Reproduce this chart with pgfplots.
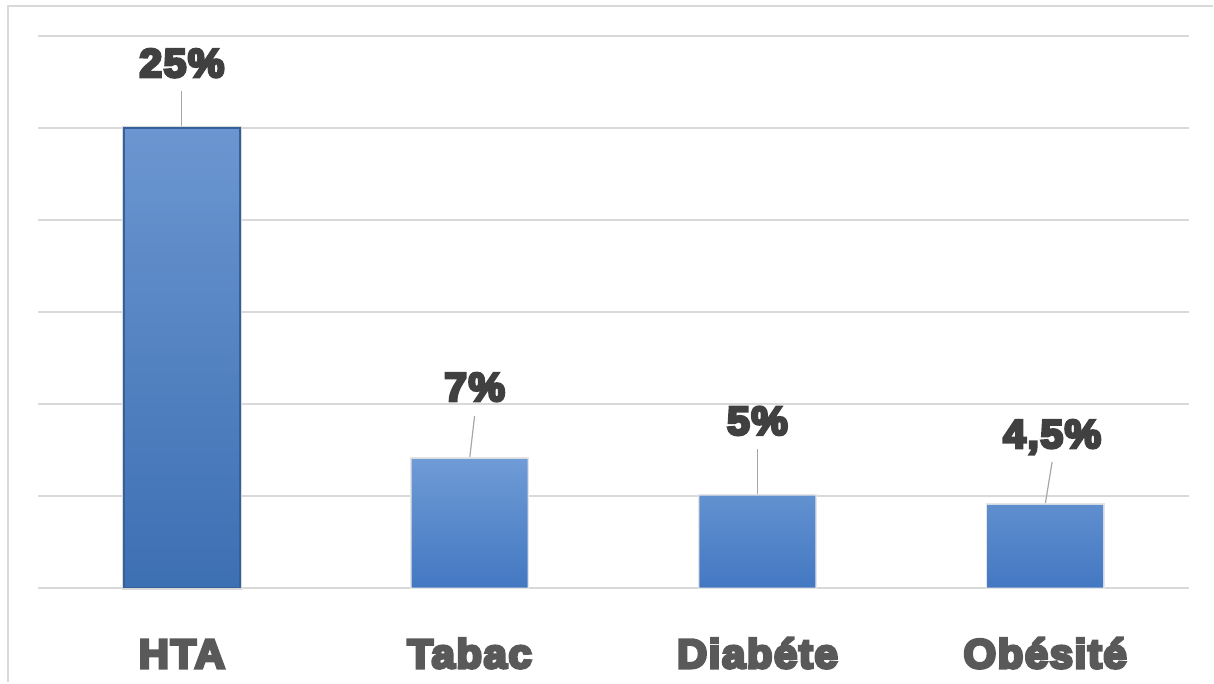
\documentclass[border=0pt]{standalone}
\usepackage{pgfplots}
\pgfplotsset{compat=1.18}
\usepackage{pgfplotstable}
\usepackage{fontspec}
\setmainfont{Liberation Sans}
\newfontfamily\heavy{Liberation Sans}[BoldFeatures={FakeBold=7.5, FakeStretch=1.02, LetterSpace=4}]

\definecolor{gridc}{HTML}{D9D9D9}
\definecolor{catc}{HTML}{595959}
\definecolor{valc}{HTML}{404040}
\definecolor{leadc}{HTML}{A6A6A6}
\definecolor{bartop}{HTML}{6F9BD6}
\definecolor{barbot}{HTML}{4378C2}
\definecolor{htatop}{HTML}{6B96D0}
\definecolor{htabot}{HTML}{3D6FB3}
\definecolor{htaedge}{HTML}{35609C}

% x = category index, y = share in percent,
% dx/dy = offset of the value label from the top of the bar (pt)
\pgfplotstableread{
x y   dx  dy
0 25  0   25.5
1 7   2.5 29
2 5   0   30.5
3 4.5 3.5 28.5
}\riskdata

\begin{document}
\begin{tikzpicture}
\path (0,0) rectangle (607pt,341.5pt);
\draw[gridc, line width=1pt] (4pt,0) -- (4pt,338.5pt) -- (607pt,338.5pt);
\begin{axis}[
  at={(19pt,47.5pt)}, anchor=south west,
  scale only axis, width=576pt, height=276pt,
  xmin=-0.5, xmax=3.5, ymin=0, ymax=30,
  ytick={0,5,...,30}, yticklabels={},
  ymajorgrids, grid style={draw=gridc, line width=1pt},
  xtick={0,1,2,3},
  xticklabels={HTA,Tabac,Diabéte,Obésité},
  xticklabel style={font=\heavy\bfseries\fontsize{20.5}{24}\selectfont,
                    text=catc, anchor=base, yshift=-36pt},
  axis line style={draw=none},
  tick style={draw=none},
  clip=false,
  /pgf/number format/assume math mode=true,
  ybar, bar width=58pt,
  visualization depends on={\thisrow{dx} \as \dx},
  visualization depends on={\thisrow{dy} \as \dy},
  nodes near coords={\pgfmathprintnumber[use comma, assume math mode=true]{\pgfplotspointmeta}\%},
  every node near coord/.append style={font=\heavy\bfseries\fontsize{20}{24}\selectfont,
      text=valc, anchor=base, xshift=\dx pt, yshift=\dy pt},
]
% leader lines from each bar to its value label
\draw[leadc, line width=0.6pt] (axis cs:0,25) -- ++(0pt,18.5pt);
\draw[leadc, line width=0.6pt] (axis cs:1,7) -- ++(2.5pt,21.5pt);
\draw[leadc, line width=0.6pt] (axis cs:2,5) -- ++(0pt,23.5pt);
\draw[leadc, line width=0.6pt] (axis cs:3,4.5) -- ++(3.5pt,21.5pt);

\addplot[bar shift=0pt, draw=htaedge, line width=0.8pt,
         top color=htatop, bottom color=htabot,
         preaction={draw=black!15, line width=2.2pt},
         restrict x to domain=-0.1:0.1]
  table[x=x, y=y] {\riskdata};
\addplot[bar shift=0pt, draw=none,
         top color=bartop, bottom color=barbot,
         preaction={draw=black!10, line width=1.6pt},
         restrict x to domain=0.9:3.1]
  table[x=x, y=y] {\riskdata};
\end{axis}
\end{tikzpicture}
\end{document}
